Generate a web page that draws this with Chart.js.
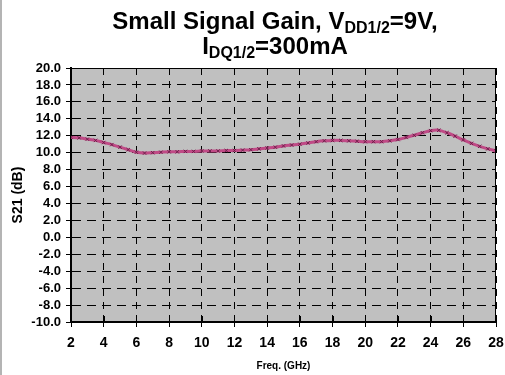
<!DOCTYPE html>
<html>
<head>
<meta charset="utf-8">
<script src="https://cdn.jsdelivr.net/npm/chart.js@4/dist/chart.umd.min.js"></script>
<style>
  html, body { margin: 0; padding: 0; background: #fff; overflow: hidden; }
  #wrap { position: relative; width: 505px; height: 375px; }
  #frame { position: absolute; left: 0; top: 0; width: 2px; height: 375px; background: #b4b4b4; }
  .ttl { position: absolute; left: 45px; width: 460px; text-align: center; white-space: nowrap;
         font-family: "Liberation Sans", Arial, sans-serif; font-weight: bold; font-size: 24px;
         line-height: 24px; color: #000; }
  .ttl sub { font-size: 16px; vertical-align: -4px; line-height: 0; }
</style>
</head>
<body>
<div id="wrap">
  <canvas id="chart" width="505" height="375"></canvas>
  <div id="frame"></div>
  <div class="ttl" style="top:9px">Small Signal Gain, V<sub>DD1/2</sub>=9V,</div>
  <div class="ttl" style="top:34px">I<sub>DQ1/2</sub>=300mA</div>
</div>
<script>
// measured S21 gain (dB) vs frequency (GHz)
var freqGHz = [2.0, 2.5, 3.0, 3.5, 4.0, 4.5, 5.0, 5.5, 6.0, 6.5, 7.0, 7.5, 8.0, 8.5, 9.0, 9.5,
               10.0, 10.5, 11.0, 11.5, 12.0, 12.5, 13.0, 13.5, 14.0, 14.5, 15.0, 15.5, 16.0, 16.5,
               17.0, 17.5, 18.0, 18.5, 19.0, 19.5, 20.0, 20.5, 21.0, 21.5, 22.0, 22.5, 23.0, 23.5,
               24.0, 24.5, 25.0, 25.5, 26.0, 26.5, 27.0, 27.5, 28.0];
var gainDB = [11.8, 11.75, 11.6, 11.45, 11.2, 10.95, 10.65, 10.35, 10.05, 9.95, 10.0, 10.05, 10.1, 10.1, 10.15, 10.15,
              10.2, 10.2, 10.2, 10.25, 10.25, 10.3, 10.35, 10.45, 10.55, 10.65, 10.8, 10.9, 11.0, 11.15,
              11.3, 11.4, 11.45, 11.45, 11.4, 11.35, 11.3, 11.3, 11.3, 11.4, 11.55, 11.8, 12.05, 12.35,
              12.6, 12.65, 12.35, 11.95, 11.5, 11.1, 10.75, 10.45, 10.2];
var xTicks = [2, 4, 6, 8, 10, 12, 14, 16, 18, 20, 22, 24, 26, 28];
var yTicks = [-10, -8, -6, -4, -2, 0, 2, 4, 6, 8, 10, 12, 14, 16, 18, 20];

var points = freqGHz.map(function (f, i) { return {x: f, y: gainDB[i]}; });
var FONT = "'Liberation Sans', Arial, sans-serif";

var plotDecor = {
  id: 'plotDecor',
  beforeDraw: function (chart) {
    var a = chart.chartArea, ctx = chart.ctx;
    ctx.save();
    ctx.fillStyle = '#c0c0c0';
    ctx.fillRect(a.left, a.top, a.right - a.left, a.bottom - a.top);
    ctx.restore();
  },
  afterDraw: function (chart) {
    var a = chart.chartArea, ctx = chart.ctx, xs = chart.scales.x;
    ctx.save();
    ctx.strokeStyle = '#000';
    ctx.lineWidth = 1;
    ctx.beginPath();
    ctx.moveTo(a.left, a.top + 0.5); ctx.lineTo(a.right, a.top + 0.5);
    ctx.moveTo(a.right - 0.5, a.top); ctx.lineTo(a.right - 0.5, a.bottom);
    // tick marks crossing into the plot on the x axis
    xTicks.forEach(function (t) {
      var px = Math.round(xs.getPixelForValue(t)) + 0.5;
      ctx.moveTo(px, a.bottom); ctx.lineTo(px, a.bottom - 6);
    });
    ctx.stroke();
    ctx.restore();
  }
};

new Chart(document.getElementById('chart'), {
  type: 'line',
  data: {
    datasets: [{
      data: points,
      borderColor: '#c04a86',
      borderWidth: 3,
      tension: 0.3,
      pointStyle: 'crossRot',
      pointRadius: 2.4,
      pointBorderColor: '#6e1f4a',
      pointBorderWidth: 1,
      pointBackgroundColor: '#6e1f4a'
    }]
  },
  options: {
    responsive: false,
    devicePixelRatio: 1,
    animation: false,
    layout: { padding: { top: 68, right: 9, left: 0, bottom: 0 } },
    plugins: { legend: { display: false }, tooltip: { enabled: false }, title: { display: false } },
    scales: {
      x: {
        type: 'linear', min: 2, max: 28,
        afterFit: function (s) { s.height = 53; s.paddingRight = 0; s.paddingLeft = 0; },
        afterBuildTicks: function (s) { s.ticks = xTicks.map(function (v) { return {value: v}; }); },
        grid: { color: '#000', lineWidth: 1, tickLength: 5, tickColor: '#000' },
        border: { display: true, color: '#000', width: 2, dash: [7, 6] },
        ticks: { color: '#000', padding: 8, maxRotation: 0, autoSkip: false,
                 font: { family: FONT, size: 14, weight: 'bold' } },
        title: { display: true, text: 'Freq. (GHz)', color: '#000', padding: { top: 0, bottom: 3 },
                 font: { family: FONT, size: 10, weight: 'bold' } }
      },
      y: {
        min: -10, max: 20,
        afterFit: function (s) { s.width = 71; s.paddingTop = 0; s.paddingBottom = 0; },
        afterBuildTicks: function (s) { s.ticks = yTicks.map(function (v) { return {value: v}; }); },
        grid: { color: '#000', lineWidth: 1, tickLength: 5, tickColor: '#000' },
        border: { display: true, color: '#000', width: 2, dash: [9, 6] },
        ticks: { color: '#000', padding: 5, autoSkip: false, font: { family: FONT, size: 13, weight: 'bold' },
                 callback: function (v) { return v.toFixed(1); } },
        title: { display: true, text: 'S21 (dB)', color: '#000', padding: { top: 10, bottom: 0 },
                 font: { family: FONT, size: 14, weight: 'bold' } }
      }
    }
  },
  plugins: [plotDecor]
});
</script>
</body>
</html>
